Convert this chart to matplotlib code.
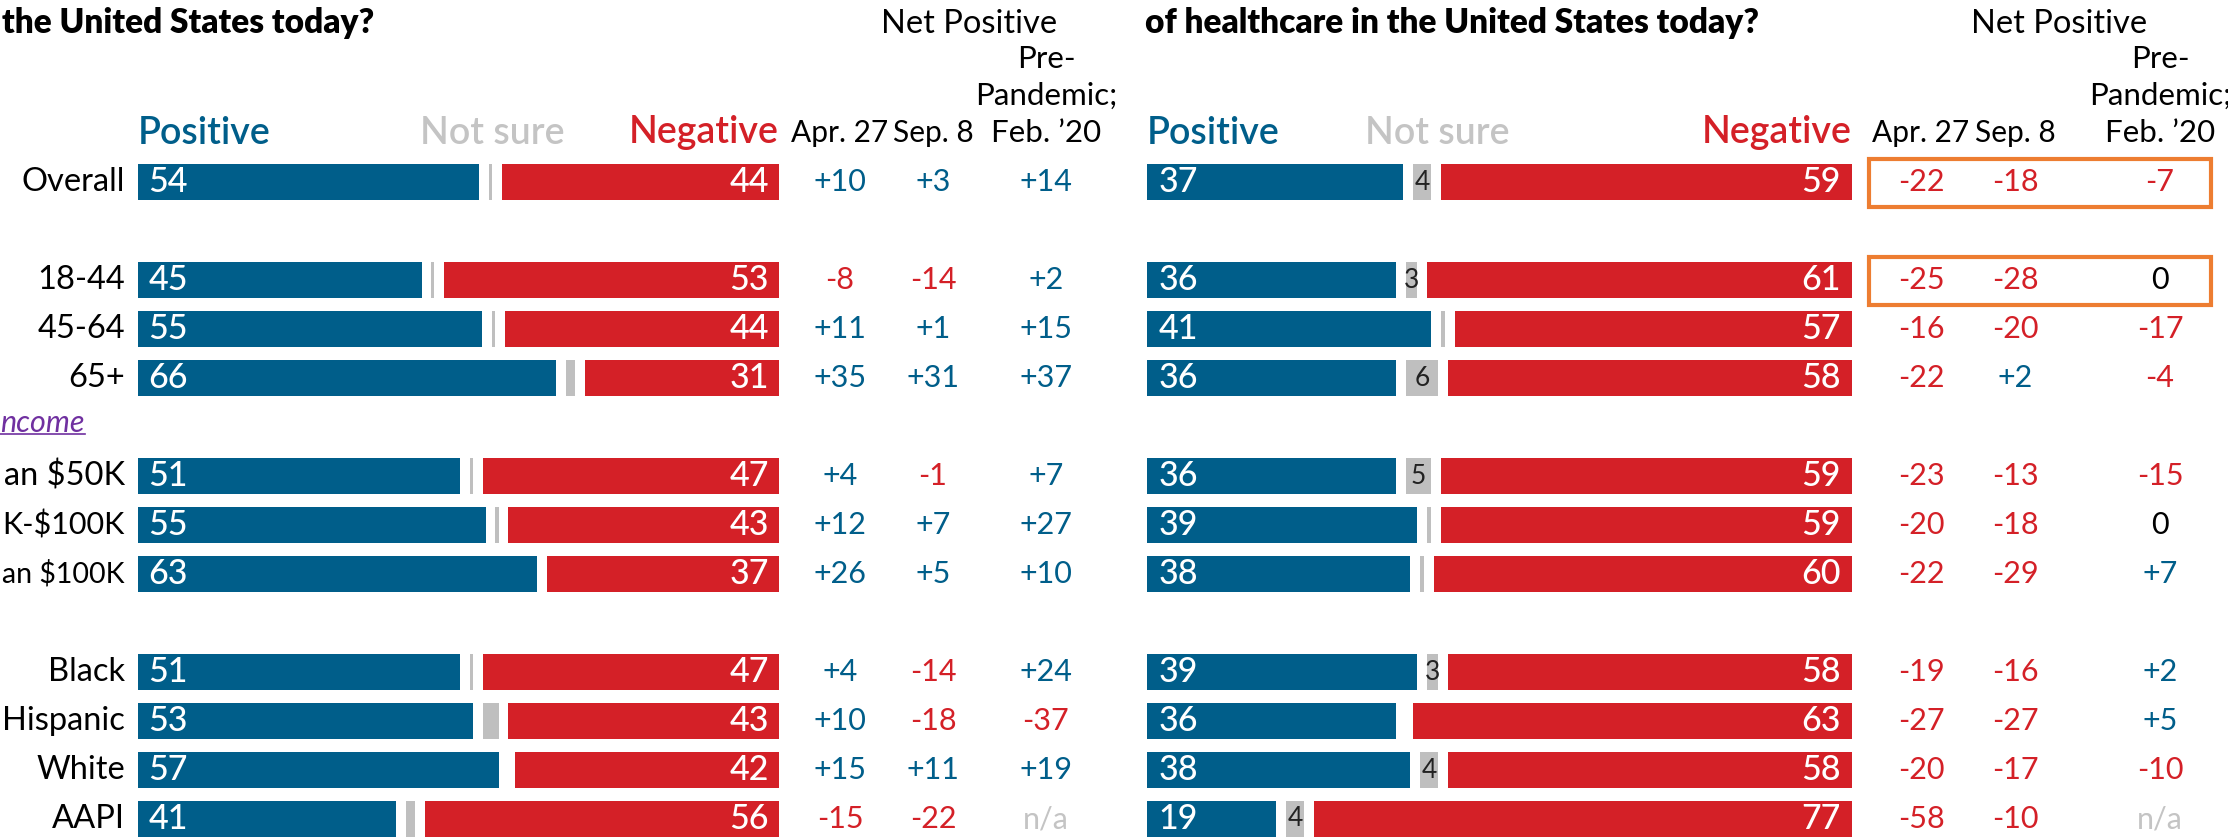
import matplotlib
matplotlib.use('Agg')
import matplotlib.pyplot as plt
from matplotlib import transforms
from matplotlib.patches import Rectangle
from matplotlib.lines import Line2D

plt.rcParams['font.family'] = ['Lato', 'DejaVu Sans']

# rows of the chart (slot numbers leave room for the group gaps)
# the reference is cropped at the left edge, so some labels show only their ends
groups = ['Overall', '18-44', '45-64', '65+', 'an \\$50K', 'K-\\$100K',
          'an \\$100K', 'Black', 'Hispanic', 'White', 'AAPI']
slots = [0, 2, 3, 4, 6, 7, 8, 10, 11, 12, 13]

# left panel: economy
econ_pos = [54, 45, 55, 66, 51, 55, 63, 51, 53, 57, 41]
econ_ns = [2, 2, 2, 3, 2, 2, 0, 2, 4, 1, 3]
econ_neg = [44, 53, 44, 31, 47, 43, 37, 47, 43, 42, 56]
econ_apr = [10, -8, 11, 35, 4, 12, 26, 4, 10, 15, -15]
econ_sep = [3, -14, 1, 31, -1, 7, 5, -14, -18, 11, -22]
econ_feb = [14, 2, 15, 37, 7, 27, 10, 24, -37, 19, None]

# right panel: healthcare
hc_pos = [37, 36, 41, 36, 36, 39, 38, 39, 36, 38, 19]
hc_ns = [4, 3, 2, 6, 5, 2, 2, 3, 1, 4, 4]
hc_neg = [59, 61, 57, 58, 59, 59, 60, 58, 63, 58, 77]
hc_apr = [-22, -25, -16, -22, -23, -20, -22, -19, -27, -20, -58]
hc_sep = [-18, -28, -20, 2, -13, -18, -29, -16, -27, -17, -10]
hc_feb = [-7, 0, -17, -4, -15, 0, 7, 2, 5, -10, None]

net_cols = ['Apr. 27', 'Sep. 8', 'Pre-\nPandemic;\nFeb. \u201920']

BLUE = '#005E8A'
RED = '#D42027'
GRAY = '#BFBFBF'
ORANGE = '#ED7D31'

W, H = 2228, 840
ROW0, PITCH = 182, 49   # pixel centre of first row, row pitch
fig = plt.figure(figsize=(W / 100, H / 100), dpi=100)


def add_panel(x0, x1, pos, ns, neg, nets, col_x, net_x, ns_head,
              title, title_x, ns_labels):
    ax = fig.add_axes([x0 / W, 0, (x1 - x0) / W, 1])
    ax.set_xlim(0, 100)
    ax.set_ylim((H - ROW0) / PITCH, -ROW0 / PITCH)
    ax.axis('off')
    pad = 0.75
    bh = 0.735
    for s, p, n, g in zip(slots, pos, ns, neg):
        tot = (p + n + g) / 100.0
        bp, bn, bg = p / tot, n / tot, g / tot
        ax.barh(s, bp - pad, left=0, height=bh, color=BLUE)
        if bn - 2 * pad > 0:
            ax.barh(s, bn - 2 * pad, left=bp + pad, height=bh, color=GRAY)
            if ns_labels and n >= 3:
                ax.text(bp + bn / 2, s, str(n), ha='center', va='center',
                        fontsize=19, color='#222222')
        ax.barh(s, bg - pad, left=bp + bn + pad, height=bh, color=RED)
        ax.text(1.6, s, str(p), ha='left', va='center', fontsize=24.5,
                color='white', fontweight='medium')
        ax.text(98.4, s, str(g), ha='right', va='center', fontsize=24.5,
                color='white', fontweight='medium')

    # headers above the bars
    ax.text(0, -1.0, 'Positive', ha='left', va='center', fontsize=27,
            color=BLUE, fontweight='semibold')
    ax.text(ns_head, -1.0, 'Not sure', ha='center', va='center',
            fontsize=27, color='#C4C4C4', fontweight='semibold')
    ax.text(100, -1.0, 'Negative', ha='right', va='center', fontsize=27,
            color=RED, fontweight='semibold')

    tr = transforms.blended_transform_factory(fig.transFigure, ax.transData)
    fig.text(title_x / W, 0.973, title, ha='left', va='center', fontsize=24,
             fontweight='heavy')
    ax.text(net_x / W, -3.22, 'Net Positive', transform=tr, ha='center',
            va='center', fontsize=23.5)
    for cx, lab in zip(col_x, net_cols):
        if '\n' in lab:
            ax.text(cx / W, -1.75, lab, transform=tr, ha='center',
                    va='center', fontsize=22.5, linespacing=1.39,
                    multialignment='center')
        else:
            ax.text(cx / W, -1.0, lab, transform=tr, ha='center',
                    va='center', fontsize=21.5)
    for cx, vals in zip(col_x, nets):
        for s, v in zip(slots, vals):
            if v is None:
                txt, c = 'n/a', '#C4C4C4'
            elif v > 0:
                txt, c = '+%d' % v, BLUE
            elif v < 0:
                txt, c = '%d' % v, RED
            else:
                txt, c = '0', 'black'
            ax.text(cx / W, s, txt, transform=tr, ha='center', va='center',
                    fontsize=22, color=c)
    return ax, tr


axl, trl = add_panel(138, 779, econ_pos, econ_ns, econ_neg,
                     [econ_apr, econ_sep, econ_feb], [840, 933, 1046], 969,
                     55.2, 'the United States today?', 2, False)
axr, trr = add_panel(1147, 1852, hc_pos, hc_ns, hc_neg,
                     [hc_apr, hc_sep, hc_feb], [1921, 2015, 2160], 2059,
                     41.1, 'of healthcare in the United States today?', 1145,
                     True)

# group labels at the left edge
labels = []
for s, g in zip(slots, groups):
    labels.append(axl.text(125 / W, s, g, transform=trl, ha='right',
                           va='center', fontsize=23.5))
inc = axl.text(85 / W, 4.92, 'ncome', transform=trl, ha='right',
               va='center', fontsize=22, style='italic', color='#7030A0')

# orange highlight boxes on the healthcare net columns
for s in [0, 2]:
    axr.add_patch(Rectangle((1869 / W, s - 0.46), (2211 - 1869) / W, 0.97,
                            transform=trr, fill=False, edgecolor=ORANGE,
                            linewidth=3, clip_on=False))

# shrink any label that would run past the left edge
fig.canvas.draw()
rend = fig.canvas.get_renderer()
for t in labels:
    while t.get_window_extent(rend).x0 < 1 and t.get_fontsize() > 15:
        t.set_fontsize(t.get_fontsize() - 0.5)

# underline for the Income header
bb = inc.get_window_extent(rend)
fig.add_artist(Line2D([0, bb.x1 / W], [(bb.y0 + 3) / H] * 2,
                      color='#7030A0', linewidth=1.2))

fig.savefig('out.png', dpi=100)
